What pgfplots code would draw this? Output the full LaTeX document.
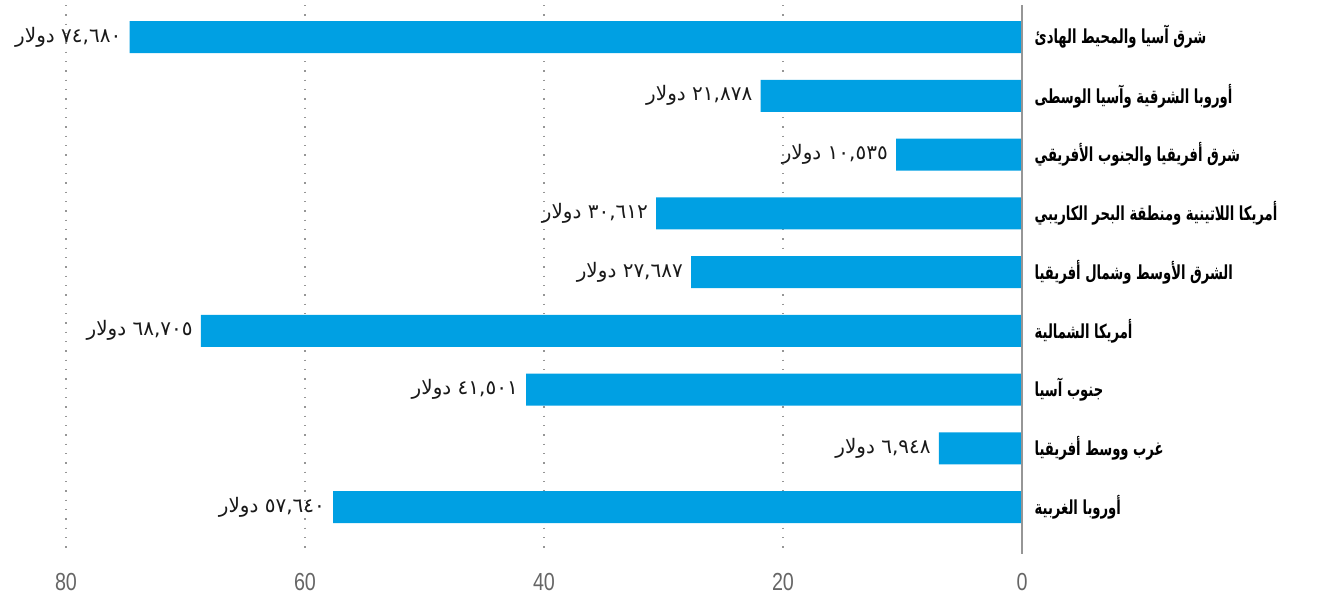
\documentclass[border=0pt]{standalone}
\usepackage{pgfplots}
\pgfplotsset{compat=1.18}
\usepackage{fontspec}
\setmainfont{Liberation Sans}
\TeXXeTstate=1
\newfontfamily\arabicfont[Script=Arabic]{DejaVu Sans}
\newfontfamily\arabicbold[Script=Arabic, FakeStretch=0.68]{DejaVu Sans Bold}
\newfontfamily\tickfont[FakeStretch=0.8]{Liberation Sans}
\definecolor{barblue}{RGB}{0,160,227}
\definecolor{tickgray}{RGB}{102,102,102}
\definecolor{gridgray}{RGB}{150,150,150}
\begin{document}
\begin{tikzpicture}[x=0.75pt,y=0.75pt]
\begin{axis}[
  at={(0,0)}, anchor=south west,
  scale only axis, width=717pt, height=408.75pt,
  xbar, bar width=24pt,
  x dir=reverse, y dir=reverse,
  xmin=0, xmax=80, ymin=-0.545, ymax=8.73,
  xtick={0,20,40,60,80},
  ytick={0,1,2,3,4,5,6,7,8},
  yticklabels={
    {\beginR شرق آسيا والمحيط الهادئ\endR},
    {\beginR أوروبا الشرقية وآسيا الوسطى\endR},
    {\beginR شرق أفريقيا والجنوب الأفريقي\endR},
    {\beginR أمريكا اللاتينية ومنطقة البحر الكاريبي\endR},
    {\beginR الشرق الأوسط وشمال أفريقيا\endR},
    {\beginR أمريكا الشمالية\endR},
    {\beginR جنوب آسيا\endR},
    {\beginR غرب ووسط أفريقيا\endR},
    {\beginR أوروبا الغربية\endR}},
  yticklabel pos=right,
  yticklabel style={anchor=west, font=\arabicbold\fontsize{14.5}{16}\selectfont, text=black, xshift=6pt},
  xticklabel style={font=\tickfont\fontsize{18.5}{20}\selectfont, text=tickgray, anchor=north, yshift=-14pt},
  /pgf/number format/assume math mode=true,
  axis line style={draw=none},
  major tick length=0pt,
  xmajorgrids,
  major grid style={gridgray, dash pattern=on 1pt off 6pt, line width=1pt},
  clip=false,
  point meta=explicit symbolic,
  nodes near coords={\beginR\pgfplotspointmeta\endR},
  nodes near coords align={anchor=east},
  every node near coord/.append style={anchor=east, font=\arabicfont\fontsize{15}{17}\selectfont, text=black!90, inner sep=0pt, xshift=-6pt},
]
\addplot[fill=barblue, draw=none] coordinates {
  (74.680,0) [{\beginR ٧٤,٦٨٠ دولار\endR}]
  (21.878,1) [{\beginR ٢١,٨٧٨ دولار\endR}]
  (10.535,2) [{\beginR ١٠,٥٣٥ دولار\endR}]
  (30.612,3) [{\beginR ٣٠,٦١٢ دولار\endR}]
  (27.687,4) [{\beginR ٢٧,٦٨٧ دولار\endR}]
  (68.705,5) [{\beginR ٦٨,٧٠٥ دولار\endR}]
  (41.501,6) [{\beginR ٤١,٥٠١ دولار\endR}]
  (6.948,7) [{\beginR ٦,٩٤٨ دولار\endR}]
  (57.640,8) [{\beginR ٥٧,٦٤٠ دولار\endR}]
};
\draw[color=gridgray, line width=1pt] (axis cs:0,-0.545) -- (axis cs:0,8.8);
\end{axis}
\pgfresetboundingbox
\path (-66,-51) rectangle (1260,550);
\end{tikzpicture}
\end{document}
